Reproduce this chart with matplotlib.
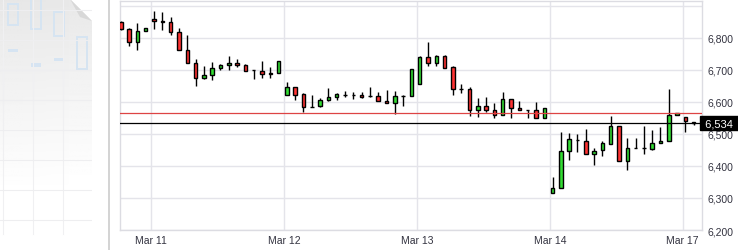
import matplotlib
matplotlib.use('Agg')
import matplotlib.pyplot as plt
import numpy as np
from matplotlib.patches import Rectangle, Polygon
import matplotlib.transforms as mtrans

# ---------------- data ----------------
opens  = [6849, 6827, 6787, 6821, 6859, 6853, 6849, 6818, 6762, 6721,
          6674, 6683, 6705, 6715, 6722, 6716, 6699, 6697, 6690, 6689,
          6620, 6646, 6624, 6585, 6587, 6606, 6614, 6623, 6620, 6621,
          6617, 6618, 6602, 6596, 6619, 6618, 6655, 6740, 6721, 6743,
          6708, 6640, 6640, 6574, 6588, 6574, 6558, 6608, 6580, 6574,
          6574, 6549, 6315, 6330, 6446, 6482, 6479, 6436, 6449, 6469,
          6525, 6415, 6456, 6456, 6453, 6471, 6477, 6558, 6552, 6538]
highs  = [6851, 6831, 6847, 6831, 6883, 6880, 6865, 6830, 6810, 6734,
          6712, 6724, 6718, 6743, 6734, 6719, 6699, 6728, 6709, 6727,
          6662, 6646, 6627, 6620, 6612, 6644, 6627, 6635, 6630, 6630,
          6647, 6630, 6638, 6634, 6622, 6702, 6743, 6788, 6746, 6746,
          6712, 6656, 6646, 6612, 6615, 6596, 6630, 6608, 6603, 6574,
          6599, 6580, 6365, 6505, 6502, 6500, 6516, 6456, 6477, 6557,
          6525, 6487, 6487, 6526, 6512, 6521, 6641, 6565, 6552, 6538]
lows   = [6823, 6776, 6763, 6820, 6828, 6826, 6808, 6761, 6721, 6651,
          6672, 6669, 6701, 6701, 6710, 6696, 6672, 6676, 6674, 6689,
          6620, 6607, 6567, 6583, 6583, 6604, 6607, 6614, 6609, 6612,
          6614, 6602, 6596, 6562, 6588, 6618, 6655, 6712, 6712, 6705,
          6620, 6627, 6555, 6552, 6568, 6549, 6558, 6549, 6574, 6549,
          6549, 6549, 6315, 6330, 6417, 6443, 6436, 6404, 6430, 6469,
          6415, 6388, 6456, 6438, 6450, 6471, 6477, 6558, 6505, 6528]
closes = [6828, 6787, 6821, 6830, 6852, 6850, 6818, 6761, 6721, 6674,
          6683, 6706, 6715, 6722, 6715, 6698, 6699, 6687, 6688, 6727,
          6646, 6623, 6585, 6585, 6606, 6615, 6624, 6623, 6620, 6614,
          6617, 6602, 6596, 6618, 6619, 6702, 6740, 6721, 6743, 6706,
          6640, 6640, 6574, 6588, 6574, 6558, 6608, 6580, 6574, 6574,
          6549, 6580, 6330, 6446, 6483, 6482, 6436, 6448, 6471, 6525,
          6415, 6455, 6456, 6456, 6471, 6477, 6559, 6565, 6540, 6534]

day_labels = ['Mar 11', 'Mar 12', 'Mar 13', 'Mar 14', 'Mar 17']
day_first_candle = [4, 20, 36, 52, 68]
y_ticks = [6200, 6300, 6400, 6500, 6600, 6700, 6800]
y_grid = [6200, 6300, 6400, 6500, 6600, 6700, 6800, 6900]
prev_close = 6565
last_price = 6534

# ---------------- figure ----------------
W, H = 738, 251
plt.rcParams['font.family'] = ['Liberation Sans', 'DejaVu Sans']
fig = plt.figure(figsize=(W / 100, H / 100), dpi=100)
fig.patch.set_facecolor('white')

# decorative page on the left
deco = fig.add_axes([0, 0, 92 / W, 1])
deco.set_xlim(0, 92)
deco.set_ylim(251, 0)
deco.axis('off')
grad = np.linspace(0, 1, 256)[:, None] * np.ones((1, 2))
gx = np.linspace(0, 1, 2)[None, :]
img = 0.905 + 0.095 * np.clip(grad * 1.3 + gx * 0.05, 0, 1)
deco.imshow(img, cmap='gray', vmin=0, vmax=1, extent=(0, 92, 251, 0), aspect='auto')
for gxl in [3.3, 33.3, 63.3]:
    deco.plot([gxl, gxl], [0, 235], color='#f0f0f2', lw=0.8)
for gyl in [10.7, 40.7, 70.7, 100.7, 130.7, 160.7, 190.7, 220.7]:
    deco.plot([0, 92], [gyl, gyl], color='#eeeef0', lw=0.8)
for (x0, y0, w, h) in [(8, 5, 10, 21), (31, 0, 10, 30), (54, 13, 10, 24), (77, 38, 10, 32)]:
    deco.add_patch(Rectangle((x0, y0), w, h, fill=False, edgecolor='#d6e4f2', lw=1.4))
for (x0, y0, w, h) in [(8, 50, 10, 3), (31, 64, 10, 4), (54, 59, 10, 3)]:
    deco.add_patch(Rectangle((x0, y0), w, h, color='#d6e4f2', lw=0))
deco.add_patch(Polygon([(70, 0), (92, 0), (92, 22)], closed=True, color='#ffffff', lw=0))
deco.add_patch(Polygon([(70, 0), (92, 22), (80, 18)], closed=True, color='#d8d8d8', lw=0))

fig.add_artist(plt.Line2D([108.5 / W, 108.5 / W], [0, 1], color='#cccccc', lw=1.2))

# main axes
ax = fig.add_axes([120 / W, (H - 231) / H, (702 - 120) / W, (231 - 2) / H])
n = len(opens)
x = np.arange(n)
ax.set_xlim(-0.1, 70.0)
ax.set_ylim(6200, 6915)

grid_c = '#e4e4ea'
for yv in y_grid:
    ax.axhline(yv, color=grid_c, lw=1.0, zorder=0)
day_x = [i - 0.33 for i in day_first_candle]
for dx in day_x:
    ax.axvline(dx, color=grid_c, lw=1.0, zorder=0)

o = np.array(opens); c = np.array(closes)
colors = ['#33dd33' if cc > oo else '#ff3333' for oo, cc in zip(o, c)]
ax.vlines(x, lows, highs, color='black', lw=1.0, zorder=2)
ax.bar(x, np.abs(c - o), bottom=np.minimum(o, c), width=0.42,
       color=colors, edgecolor='black', linewidth=1.0, zorder=3)

ax.axhline(prev_close, color='#dd4444', lw=0.9, zorder=4)
ax.axhline(last_price, color='black', lw=0.9, zorder=4)

for s in ax.spines.values():
    s.set_color('#dcdce2')
    s.set_linewidth(1.0)

ax.set_xticks(day_x)
ax.set_xticklabels(day_labels)
ax.set_yticks(y_ticks)
ax.set_yticklabels([f'{v:,}' for v in y_ticks])
ax.yaxis.tick_right()
ax.tick_params(axis='both', length=0, labelsize=7.5, labelcolor='#333340')
ax.tick_params(axis='y', pad=4)
ax.tick_params(axis='x', pad=3.5)

trans = mtrans.blended_transform_factory(ax.transAxes, ax.transData)
ax.text(1.0, last_price, f' {last_price:,} ', transform=trans, ha='left', va='center',
        fontsize=8, color='white', zorder=6, clip_on=False,
        bbox=dict(boxstyle='square,pad=0.15', facecolor='black', edgecolor='black'))

fig.savefig('out.png', dpi=100)
